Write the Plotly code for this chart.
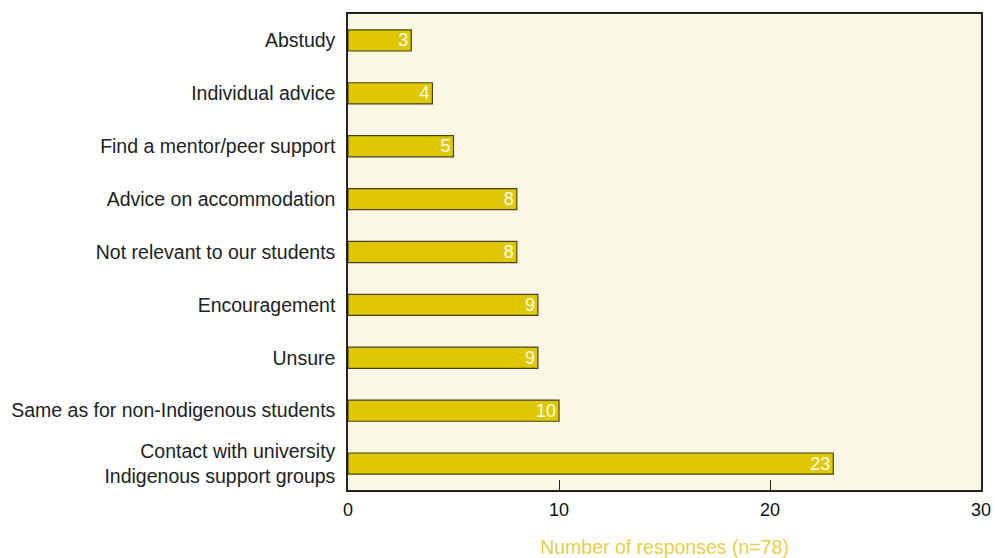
import plotly.graph_objects as go

categories = [
    "Contact with university<br>Indigenous support groups",
    "Same as for non-Indigenous students",
    "Unsure",
    "Encouragement",
    "Not relevant to our students",
    "Advice on accommodation",
    "Find a mentor/peer support",
    "Individual advice",
    "Abstudy",
]
responses = [23, 10, 9, 9, 8, 8, 5, 4, 3]
x_ticks = [0, 10, 20, 30]

FONT = "Liberation Sans, Arial, sans-serif"

fig = go.Figure(
    go.Bar(
        x=responses,
        y=categories,
        orientation="h",
        width=0.4,
        marker=dict(color="#dfc800", line=dict(color="#4a4318", width=1.2)),
        text=[str(v) for v in responses],
        textposition="inside",
        insidetextanchor="end",
        textangle=0,
        constraintext="none",
        textfont=dict(color="#fffbea", size=18, family=FONT),
        cliponaxis=False,
    )
)

fig.update_layout(
    width=995,
    height=558,
    margin=dict(l=348, r=14, t=14, b=68),
    paper_bgcolor="white",
    plot_bgcolor="#fbf7e5",
    font=dict(family=FONT, size=19, color="#222222"),
    showlegend=False,
    bargap=0.6,
)

fig.update_xaxes(
    range=[0, 30],
    tickvals=x_ticks,
    ticktext=[str(t) for t in x_ticks],
    ticks="inside",
    ticklen=10,
    tickcolor="#222222",
    tickfont=dict(size=18, color="#111111"),
    ticklabelstandoff=3,
    showgrid=False,
    zeroline=False,
    showline=True,
    linecolor="#222222",
    linewidth=1.5,
    mirror=True,
    automargin=False,
    title=dict(
        text="Number of responses (n=78)",
        font=dict(size=19.5, color="#e8cf4a"),
        standoff=24,
    ),
)

fig.update_yaxes(
    showgrid=False,
    zeroline=False,
    showline=True,
    linecolor="#222222",
    linewidth=1.5,
    mirror=True,
    ticks="",
    automargin=False,
    ticklabelstandoff=7,
    tickfont=dict(size=19.5, color="#222222"),
)

fig.write_html("out.html")
